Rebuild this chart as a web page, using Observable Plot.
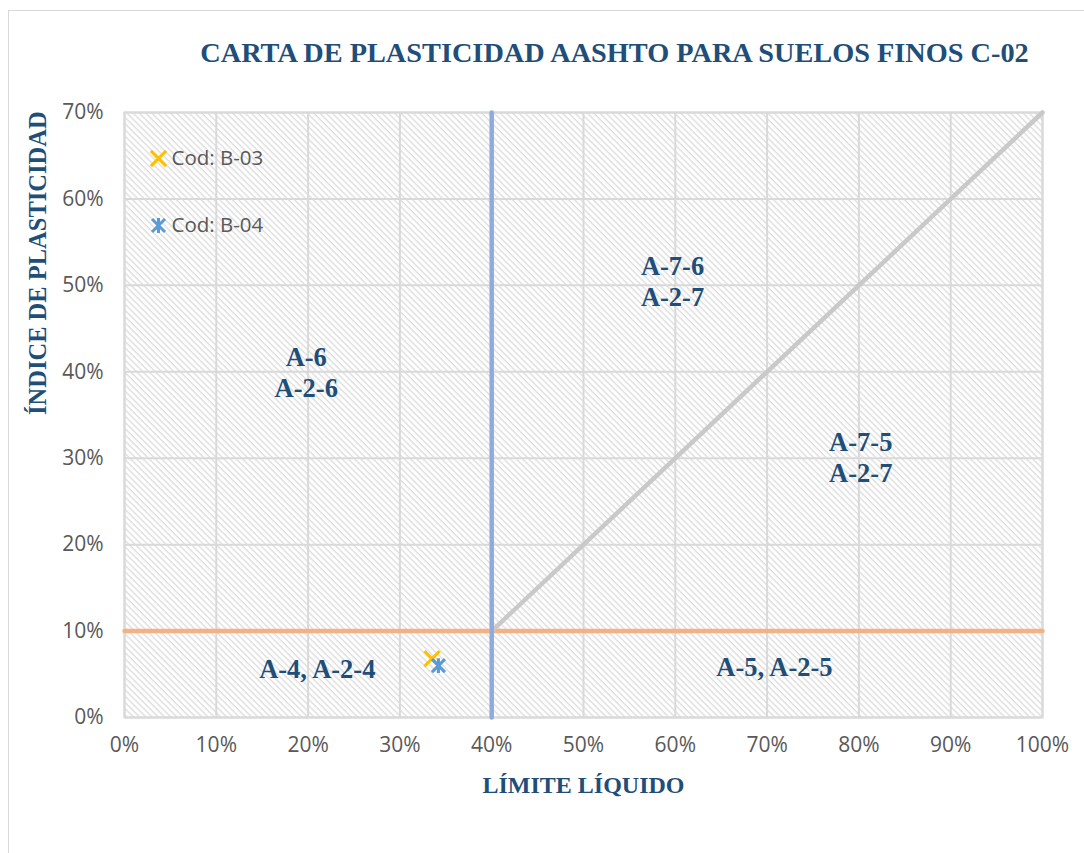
<!DOCTYPE html>
<html><head><meta charset="utf-8">
<script src="https://cdn.jsdelivr.net/npm/d3@7"></script>
<script src="https://cdn.jsdelivr.net/npm/@observablehq/plot@0.6"></script>
<style>
body{margin:0;background:#fff;overflow:hidden;}
#wrap{position:relative;width:1084px;height:853px;overflow:hidden;}
#border{position:absolute;left:8px;top:10px;width:1200px;height:1000px;border:1.5px solid #d9d9d9;}
#chart{position:absolute;left:0;top:0;}
</style></head><body>
<div id="wrap"><div id="border"></div><div id="chart"></div></div>
<script>
// ---- data ----
const chartTitle = "CARTA DE PLASTICIDAD AASHTO PARA SUELOS FINOS C-02";
const xLabel = "LÍMITE LÍQUIDO";
const yLabel = "ÍNDICE DE PLASTICIDAD";
const xTicks = [0, 10, 20, 30, 40, 50, 60, 70, 80, 90, 100];
const yTicks = [0, 10, 20, 30, 40, 50, 60, 70];

const sampleNames = ["Cod: B-03", "Cod: B-04"];
const sampleLL = [33.5, 34.2];
const samplePI = [6.8, 6.0];

// boundary lines (LL, PI)
const lineLL40 = [[40, 0], [40, 70]];
const linePI10 = [[0, 10], [100, 10]];
const lineA = [[40, 10], [100, 70]];

const zoneNames = ["A-6\nA-2-6", "A-7-6\nA-2-7", "A-7-5\nA-2-7", "A-4, A-2-4", "A-5, A-2-5"];
const zoneLL = [19.8, 59.7, 80.2, 21.0, 70.8];
const zonePI = [40, 50.5, 30.2, 5.7, 5.9];

// ---- styles ----
const navy = "#1F4E79";
const tickColor = "#595959";
const gridColor = "#d9d9d9";
const sampleColors = ["#FFC000", "#5B9BD5"];

// Excel-style "star" marker: an X with a vertical bar
const starSymbol = {
  draw(ctx, size) {
    const r = Math.sqrt(size / Math.PI);
    ctx.moveTo(-r, -r); ctx.lineTo(r, r);
    ctx.moveTo(r, -r); ctx.lineTo(-r, r);
    ctx.moveTo(0, -r * 1.15); ctx.lineTo(0, r * 1.15);
  }
};
const sampleSymbols = ["times", starSymbol];

const defs = () => {
  const g = d3.create("svg:defs");
  const s = 4.4;
  const p = g.append("pattern").attr("id", "hatch")
    .attr("patternUnits", "userSpaceOnUse")
    .attr("width", s).attr("height", s)
    .attr("patternTransform", "rotate(-45)");
  p.append("rect").attr("width", s).attr("height", s).attr("fill", "#fff");
  p.append("line").attr("x1", 1).attr("y1", 0).attr("x2", 1).attr("y2", s)
    .attr("stroke", "#dedede").attr("stroke-width", 1.4);
  return g.node();
};

const samples = sampleNames.map((name, i) => ({name, ll: sampleLL[i], pi: samplePI[i]}));
const zones = zoneNames.map((name, i) => ({name, ll: zoneLL[i], pi: zonePI[i]}));

const serif = "'Liberation Serif', 'Times New Roman', serif";

const chart = Plot.plot({
  width: 1084, height: 853,
  marginLeft: 124, marginRight: 42, marginTop: 112, marginBottom: 136,
  x: {domain: [0, 100]},
  y: {domain: [0, 70]},
  style: {fontFamily: "'Open Sans', sans-serif", fontSize: "21px", background: "transparent", overflow: "visible"},
  marks: [
    defs,
    Plot.frame({fill: "url(#hatch)"}),
    Plot.gridX(xTicks, {stroke: gridColor, strokeOpacity: 1, strokeWidth: 2}),
    Plot.gridY(yTicks, {stroke: gridColor, strokeOpacity: 1, strokeWidth: 2}),
    Plot.frame({stroke: gridColor, strokeWidth: 2}),
    Plot.axisX(xTicks, {tickSize: 0, tickPadding: 20, tickFormat: d => d + "%", fill: tickColor, label: null, fontSize: 21}),
    Plot.axisY(yTicks, {tickSize: 0, tickPadding: 21, tickFormat: d => d + "%", fill: tickColor, label: null, fontSize: 21}),
    Plot.line(linePI10, {x: d => d[0], y: d => d[1], stroke: "#F4B183", strokeWidth: 4.5}),
    Plot.line(lineA, {x: d => d[0], y: d => d[1], stroke: "#C9C9C9", strokeWidth: 4.5}),
    Plot.line(lineLL40, {x: d => d[0], y: d => d[1], stroke: "#8FAADC", strokeWidth: 4.5}),
    Plot.dot(samples.slice(0, 1), {x: "ll", y: "pi", symbol: sampleSymbols[0], stroke: sampleColors[0], fill: "none", strokeWidth: 3, r: 7}),
    Plot.dot(samples.slice(1, 2), {x: "ll", y: "pi", symbol: sampleSymbols[1], stroke: sampleColors[1], fill: "none", strokeWidth: 3, r: 6.5}),
    Plot.text(zones, {x: "ll", y: "pi", text: "name", fill: navy, fontFamily: serif, fontWeight: "bold", fontSize: 26.5, lineHeight: 1.17}),
    // legend
    Plot.dot([0], {frameAnchor: "top-left", dx: 34, dy: 46, symbol: sampleSymbols[0], stroke: sampleColors[0], fill: "none", strokeWidth: 3, r: 7}),
    Plot.dot([0], {frameAnchor: "top-left", dx: 34, dy: 113, symbol: sampleSymbols[1], stroke: sampleColors[1], fill: "none", strokeWidth: 3, r: 6.5}),
    Plot.text([sampleNames[0]], {frameAnchor: "top-left", dx: 47, dy: 46, lineAnchor: "middle", text: d => d, textAnchor: "start", fill: tickColor, fontSize: 20.5}),
    Plot.text([sampleNames[1]], {frameAnchor: "top-left", dx: 47, dy: 113, lineAnchor: "middle", text: d => d, textAnchor: "start", fill: tickColor, fontSize: 20.5}),
    // title & axis labels
    Plot.text([chartTitle], {frameAnchor: "top", dx: 31, dy: -60, lineAnchor: "middle", text: d => d, fill: navy, fontFamily: serif, fontWeight: "bold", fontSize: 28.3}),
    Plot.text([xLabel], {frameAnchor: "bottom", dy: 68, lineAnchor: "middle", text: d => d, fill: navy, fontFamily: serif, fontWeight: "bold", fontSize: 24}),
    Plot.text([yLabel], {frameAnchor: "left", dx: -86, rotate: -90, text: d => d, fill: navy, fontFamily: serif, fontWeight: "bold", fontSize: 24.5})
  ]
});
document.getElementById("chart").appendChild(chart);
</script>
</body></html>
